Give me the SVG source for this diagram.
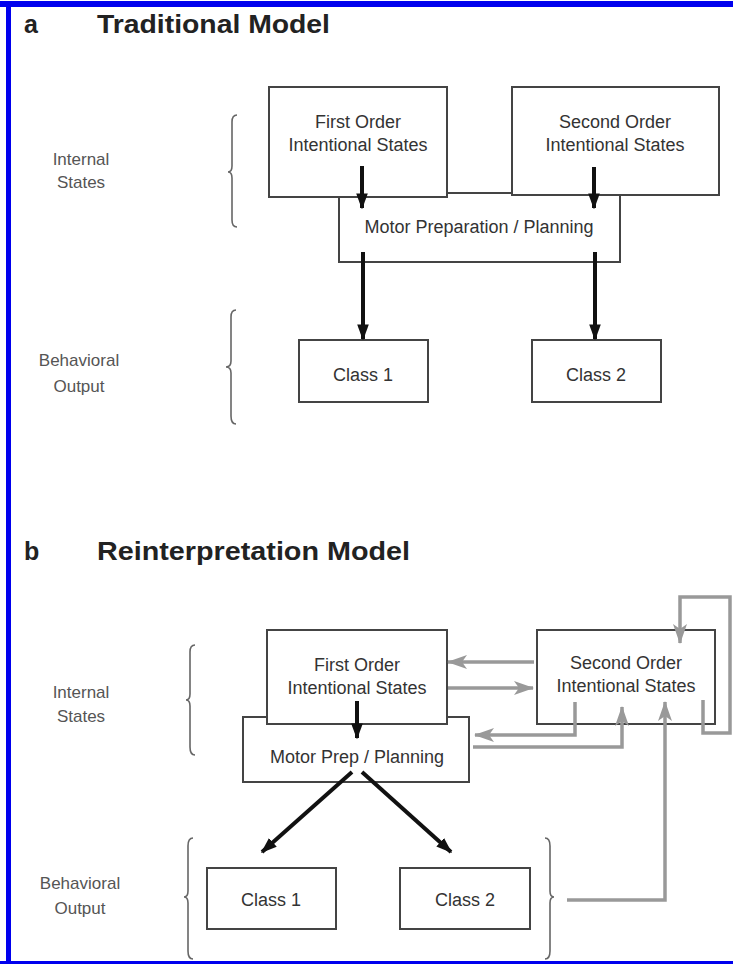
<svg xmlns="http://www.w3.org/2000/svg" width="733" height="964" viewBox="0 0 733 964">
<defs>
<style>
.box{fill:#fff;stroke:#444;stroke-width:2}
.t{font-family:"Liberation Sans",Arial,sans-serif;font-size:18px;fill:#333;text-anchor:middle}
.lbl{font-family:"Liberation Sans",Arial,sans-serif;font-size:17px;fill:#555;text-anchor:middle}
.title{font-family:"Liberation Sans",Arial,sans-serif;font-size:25px;font-weight:bold;fill:#222}
.blk{stroke:#111;stroke-width:4;fill:none}
.gry{stroke:#999;stroke-width:3.5;fill:none}
.brace{stroke:#666;stroke-width:1.6;fill:none}
</style>
<marker id="ah" markerUnits="userSpaceOnUse" markerWidth="16" markerHeight="22" viewBox="0 0 22 16" refX="20" refY="8" orient="auto">
<path d="M0,0 L22,8 L0,16 Z" fill="#111"/>
</marker>
<marker id="ag" markerUnits="userSpaceOnUse" markerWidth="20" markerHeight="14" viewBox="0 0 20 14" refX="19" refY="7" orient="auto">
<path d="M0,0 L20,7 L0,14 L5,7 Z" fill="#999"/>
</marker>
</defs>
<rect x="0" y="0" width="733" height="964" fill="#fff"/>
<!-- blue frame -->
<rect x="0" y="1" width="733" height="6" fill="#0000ee"/>
<rect x="6" y="1" width="5" height="963" fill="#0000ee"/>
<rect x="0" y="961" width="733" height="3" fill="#0000ee"/>

<!-- Panel a -->
<g id="title-a">
<text class="title" x="24" y="33">a</text>
<text class="title" x="97" y="33" textLength="233" lengthAdjust="spacingAndGlyphs">Traditional Model</text>
</g>
<g id="a-internal-label">
<text class="lbl" x="81" y="165">Internal</text>
<text class="lbl" x="81" y="188">States</text>
<path class="brace" d="M237,115 Q232,115 232,122 L232,166 Q232,172 228,172 Q232,172 232,178 L232,220 Q232,227 237,227"/>
</g>
<g id="a-behavioral-label">
<text class="lbl" x="79" y="366">Behavioral</text>
<text class="lbl" x="79" y="392">Output</text>
<path class="brace" d="M236,310 Q231,310 231,317 L231,361 Q231,367 226,367 Q231,367 231,373 L231,416 Q231,424 236,424"/>
</g>
<g id="a-motor">
<rect class="box" x="339" y="193" width="281" height="69"/>
<text class="t" x="479" y="233">Motor Preparation / Planning</text>
</g>
<g id="a-first">
<rect class="box" x="269" y="87" width="178" height="110"/>
<text class="t" x="358" y="128">First Order</text>
<text class="t" x="358" y="151">Intentional States</text>
</g>
<g id="a-second">
<rect class="box" x="512" y="87" width="207" height="108"/>
<text class="t" x="615" y="128">Second Order</text>
<text class="t" x="615" y="151">Intentional States</text>
</g>
<g id="a-class1">
<rect class="box" x="299" y="340" width="129" height="62"/>
<text class="t" x="363" y="381">Class 1</text>
</g>
<g id="a-class2">
<rect class="box" x="532" y="340" width="129" height="62"/>
<text class="t" x="596" y="381">Class 2</text>
</g>
<g id="a-connectors">
<line class="blk" x1="362" y1="166" x2="362" y2="208" marker-end="url(#ah)"/>
<line class="blk" x1="594" y1="167" x2="594" y2="208" marker-end="url(#ah)"/>
<line class="blk" x1="363" y1="252" x2="363" y2="339" marker-end="url(#ah)"/>
<line class="blk" x1="595" y1="252" x2="595" y2="339" marker-end="url(#ah)"/>
</g>

<!-- Panel b -->
<g id="title-b">
<text class="title" x="24" y="560">b</text>
<text class="title" x="97" y="560" textLength="313" lengthAdjust="spacingAndGlyphs">Reinterpretation Model</text>
</g>
<g id="b-internal-label">
<text class="lbl" x="81" y="698">Internal</text>
<text class="lbl" x="81" y="722">States</text>
<path class="brace" d="M195,645 Q190,645 190,652 L190,694 Q190,700 186,700 Q190,700 190,706 L190,747 Q190,755 195,755"/>
</g>
<g id="b-behavioral-label">
<text class="lbl" x="80" y="889">Behavioral</text>
<text class="lbl" x="80" y="914">Output</text>
<path class="brace" d="M193,838 Q188,838 188,846 L188,891 Q188,897 184,897 Q188,897 188,903 L188,951 Q188,959 193,959"/>
<path class="brace" d="M545,838 Q550,838 550,846 L550,891 Q550,897 554,897 Q550,897 550,903 L550,951 Q550,959 545,959"/>
</g>
<g id="b-motor">
<rect class="box" x="243" y="717" width="226" height="65"/>
<text class="t" x="357" y="763">Motor Prep / Planning</text>
</g>
<g id="b-first">
<rect class="box" x="267" y="630" width="180" height="94"/>
<text class="t" x="357" y="671">First Order</text>
<text class="t" x="357" y="694">Intentional States</text>
</g>
<g id="b-second">
<rect class="box" x="537" y="630" width="178" height="94"/>
<text class="t" x="626" y="669">Second Order</text>
<text class="t" x="626" y="692">Intentional States</text>
</g>
<g id="b-class1">
<rect class="box" x="207" y="868" width="129" height="61"/>
<text class="t" x="271" y="906">Class 1</text>
</g>
<g id="b-class2">
<rect class="box" x="400" y="868" width="130" height="61"/>
<text class="t" x="465" y="906">Class 2</text>
</g>
<g id="b-connectors">
<line class="blk" x1="357" y1="701" x2="357" y2="738" marker-end="url(#ah)"/>
<line class="blk" x1="352" y1="772" x2="262" y2="852" marker-end="url(#ah)"/>
<line class="blk" x1="362" y1="772" x2="451" y2="852" marker-end="url(#ah)"/>
<line class="gry" x1="534" y1="662" x2="448" y2="662" marker-end="url(#ag)"/>
<line class="gry" x1="448" y1="688" x2="533" y2="688" marker-end="url(#ag)"/>
<polyline class="gry" points="575,702 575,735 475,735" marker-end="url(#ag)"/>
<polyline class="gry" points="473,747 622,747 622,707" marker-end="url(#ag)"/>
<polyline class="gry" points="567,900 665,900 665,702" marker-end="url(#ag)"/>
<polyline class="gry" points="703,700 703,733 730,733 730,597 680,597 680,643" marker-end="url(#ag)"/>
</g>
</svg>
